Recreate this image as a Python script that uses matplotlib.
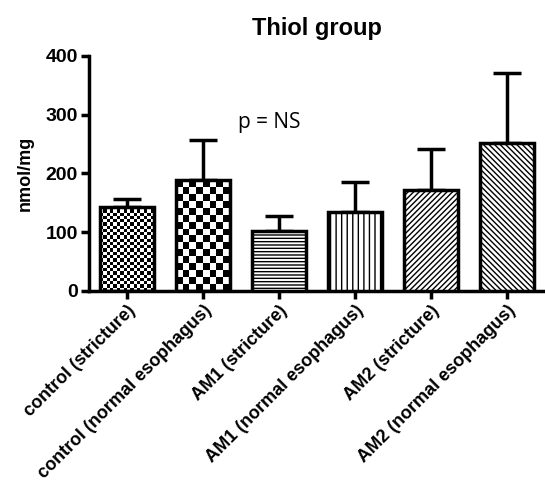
import numpy as np
from matplotlib import pyplot as plt

groups = ['control (stricture)', 'control (normal esophagus)', 'AM1 (stricture)',
          'AM1 (normal esophagus)', 'AM2 (stricture)', 'AM2 (normal esophagus)']
means = [143, 188, 102, 134, 171, 252]
errors = [14, 68, 25, 52, 70, 118]

plt.rcParams['font.family'] = ['Liberation Sans', 'DejaVu Sans']
plt.rcParams['hatch.linewidth'] = 1.0

fig = plt.figure(figsize=(5.45, 5.03), dpi=100)
ax = fig.add_axes([0.163, 0.4215, 0.837, 0.4675])

x = np.arange(len(groups))
hatches = [None, None, '-----', '|||', '//////', '\\\\\\\\\\\\']
faces = ['none', 'none', 'white', 'white', 'white', 'white']
bars = ax.bar(x, means, width=0.71, color=faces, edgecolor='black', linewidth=2.5,
              hatch=hatches, zorder=3)
ax.errorbar(x, means, yerr=[np.zeros(len(means)), errors], fmt='none', ecolor='black',
            elinewidth=2.5, capsize=10, capthick=2.5, zorder=1)

# checkerboard fills for the two control bars
for bar, rows, cols in [(bars[0], 26, 16), (bars[1], 16, 8)]:
    bx = bar.get_x()
    w, h = bar.get_width(), bar.get_height()
    board = (np.add.outer(np.arange(rows), np.arange(cols)) % 2).astype(float)
    im = ax.imshow(board, cmap='gray', extent=[bx, bx + w, 0, h], aspect='auto',
                   interpolation='nearest', zorder=2)
    im.set_clip_path(bar)

ax.set_xlim(-0.5, 5.5)
ax.set_ylim(0, 400)
ax.set_yticks([0, 100, 200, 300, 400])
ax.set_xticks(x)
ax.set_xticklabels(groups, rotation=45, ha='right', rotation_mode='anchor',
                   fontsize=13, fontweight='bold')
for lbl in ax.get_yticklabels():
    lbl.set_fontweight('bold')
    lbl.set_fontsize(14)
ax.tick_params(width=2.5, length=6, pad=2)
ax.spines['top'].set_visible(False)
ax.spines['right'].set_visible(False)
ax.spines['left'].set_linewidth(2.5)
ax.spines['bottom'].set_linewidth(2.5)
ax.set_ylabel('nmol/mg', fontsize=13, fontweight='bold', labelpad=8)
ax.set_title('Thiol group', fontsize=17, fontweight='black', pad=15)
ax.text(1.46, 277, 'p = NS', fontsize=15, family=['Open Sans', 'Liberation Sans'])

fig.savefig('out.png', dpi=100)
